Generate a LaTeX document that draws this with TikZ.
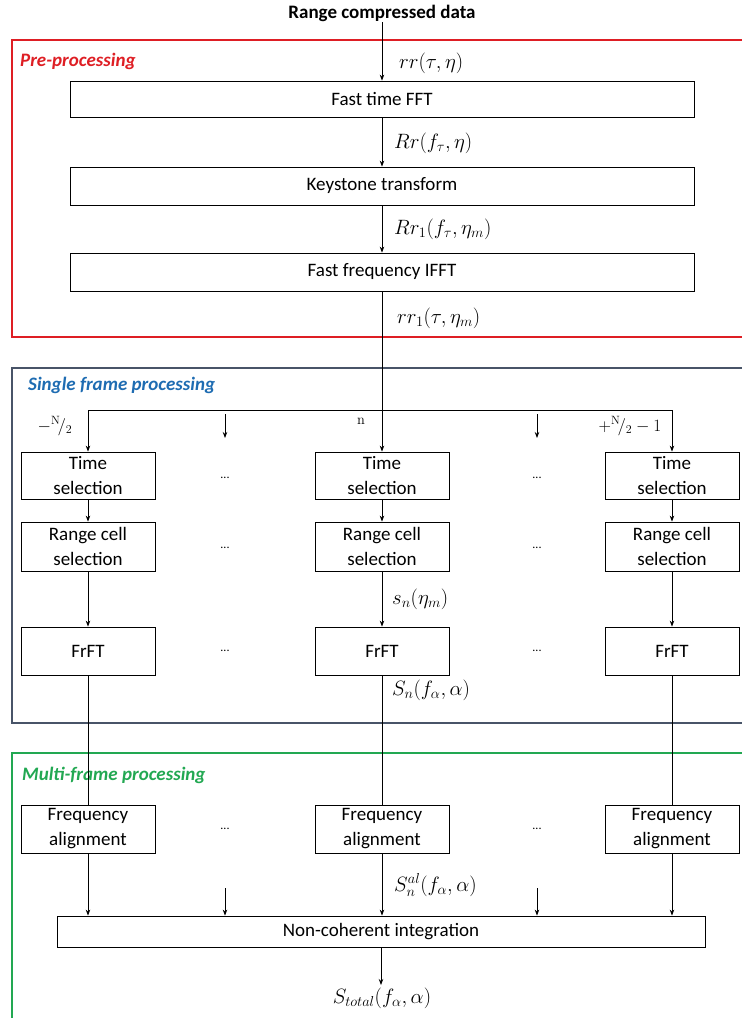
\documentclass[tikz,border=0pt]{standalone}
\usepackage[no-math]{fontspec}
\setmainfont{Carlito}
\usetikzlibrary{arrows.meta}
\definecolor{prered}{RGB}{222,30,36}
\definecolor{sfblue}{RGB}{30,108,178}
\definecolor{sfframe}{RGB}{72,84,104}
\definecolor{mfgreen}{RGB}{34,168,82}
\begin{document}
\begin{tikzpicture}[x=1pt,y=-1pt,
  box/.style={draw,line width=0.8pt,minimum width=134pt,align=center,inner sep=0pt,font=\fontsize{19}{25}\selectfont},
  wbox/.style={draw,line width=0.8pt,minimum width=624pt,inner sep=0pt,font=\fontsize{19}{25}\selectfont},
  arr/.style={line width=0.8pt,-{Stealth[length=6pt,width=4.5pt]}},
  ln/.style={line width=0.8pt},
  lab/.style={anchor=west,inner sep=0pt,font=\fontsize{21}{24}\selectfont},
  frame/.style={line width=2.5pt},
  ttl/.style={anchor=west,inner sep=0pt,font=\fontsize{19}{22}\selectfont\bfseries\itshape},
  dots/.style={inner sep=0pt,font=\fontsize{12}{12}\selectfont}]
\useasboundingbox (0,0) rectangle (742,1018);
% frames
\draw[frame,prered] (12,40) rectangle (770,337);
\draw[frame,sfframe] (12,368) rectangle (770,723);
\draw[frame,mfgreen] (12,753) rectangle (770,1040);
\node[ttl,prered] (tpre) at (20,61) {Pre-processing};
\node[ttl,sfblue] (tsf) at (28,385) {Single frame processing};
\node[ttl,mfgreen] (tmf) at (22,775) {Multi-frame processing};
% top
\node[inner sep=0pt,font=\fontsize{19}{22}\selectfont\bfseries] (title) at (382,13) {Range compressed data};
\node[wbox,minimum height=36pt] (fft) at (382,99) {Fast time FFT};
\node[wbox,minimum height=38pt] (key) at (382,186) {Keystone transform};
\node[wbox,minimum height=38pt] (ifft) at (382,272) {Fast frequency IFFT};
\coordinate (t0) at (382,22);
\draw[arr] (t0) -- (fft.north);
\draw[arr] (fft.south) -- (key.north);
\draw[arr] (key.south) -- (ifft.north);
\node[lab] (l1) at (399,63) {$rr(\tau,\eta)$};
\node[lab] (l2) at (394,143) {$Rr(f_\tau,\eta)$};
\node[lab] (l3) at (394,229) {$Rr_1(f_\tau,\eta_m)$};
\node[lab] (l4) at (397,318) {$rr_1(\tau,\eta_m)$};
% split
\coordinate (sp) at (382,410);
\coordinate (spL) at (88,410);
\coordinate (spR) at (672,410);
\draw[ln] (ifft.south) -- (sp);
\draw[ln] (spL) -- (spR);
% columns
\foreach \n/\x in {L/88,M/382,R/672}{
  \node[box,minimum height=47pt] (ts\n) at (\x,475.5) {Time\\selection};
  \node[box,minimum height=49pt] (rc\n) at (\x,546.5) {Range cell\\selection};
  \node[box,minimum height=48pt] (fr\n) at (\x,651) {FrFT};
  \node[box,minimum height=48pt] (fa\n) at (\x,829) {Frequency\\alignment};
  \coordinate (top\n) at (\x,410);
  \draw[arr] (top\n) -- (ts\n.north);
  \draw[arr] (ts\n.south) -- (rc\n.north);
  \draw[arr] (rc\n.south) -- (fr\n.north);
  \draw[ln] (fr\n.south) -- (fa\n.north);
}
\node[wbox,minimum width=648pt,minimum height=31pt] (nci) at (381,931.5) {Non-coherent integration};
\foreach \n in {L,M,R}{
  \draw[arr] (fa\n.south) -- (fa\n.south |- nci.north);
}
% small arrows and dots
\foreach \k/\x in {a/225,b/537}{
  \coordinate (ua\k) at (\x,414);
  \coordinate (ub\k) at (\x,438);
  \draw[arr] (ua\k) -- (ub\k);
  \coordinate (va\k) at (\x,888);
  \draw[arr] (va\k) -- (va\k |- nci.north);
  \node[dots] (d1\k) at (\x,478) {...};
  \node[dots] (d2\k) at (\x,548) {...};
  \node[dots] (d3\k) at (\x,651) {...};
  \node[dots] (d4\k) at (\x,829) {...};
}
\node[inner sep=0pt,font=\fontsize{17}{20}\selectfont] (nl) at (55,426) {$-{}^{\mathrm{N}}\!/_{2}$};
\node[inner sep=0pt,font=\fontsize{15}{18}\selectfont] (nm) at (361,421) {$\mathrm{n}$};
\node[inner sep=0pt,font=\fontsize{17}{20}\selectfont] (nr) at (630,426) {$+{}^{\mathrm{N}}\!/_{2}-1$};
\node[lab] (l5) at (392,599) {$s_n(\eta_m)$};
\node[lab] (l6) at (392,690) {$S_n(f_\alpha,\alpha)$};
\node[lab] (l7) at (394,885) {$S_n^{al}(f_\alpha,\alpha)$};
\coordinate (out) at (381,985);
\draw[arr] (nci.south) -- (out);
\node[inner sep=0pt,font=\fontsize{21}{24}\selectfont] (l8) at (382,998) {$S_{total}(f_\alpha,\alpha)$};
\end{tikzpicture}
\end{document}
